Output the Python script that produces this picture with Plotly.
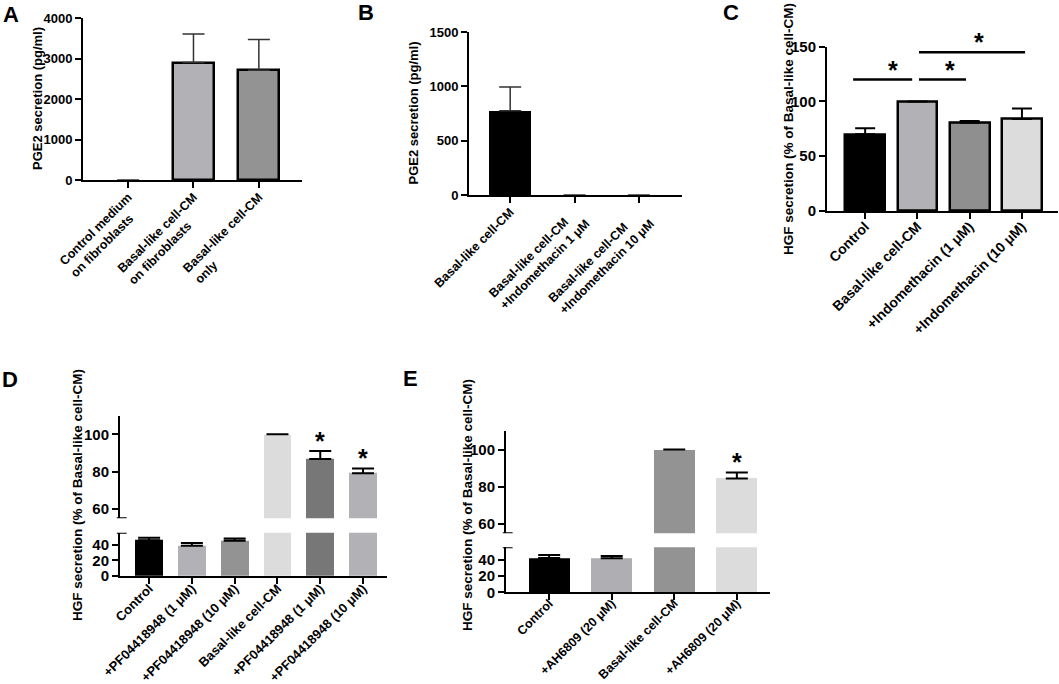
import plotly.graph_objects as go

W, H = 1059, 684
FONT = "Liberation Sans, Arial, sans-serif"
NB = "\u00a0"  # pads short lines so the two-line labels read left-aligned

# ---- data ----
a_labels = ["Control medium<br>on fibroblasts" + NB * 4,
            "Basal-like cell-CM<br>on fibroblasts" + NB * 7,
            "Basal-like cell-CM<br>only" + NB * 23]
a_values = [0, 2900, 2710]
a_errors = [0, 705, 760]
a_colors = ["#ffffff", "#b1b1b6", "#939393"]

b_labels = ["Basal-like cell-CM",
            "Basal-like cell-CM" + NB * 4 + "<br>+Indomethacin 1 μM",
            "Basal-like cell-CM" + NB * 6 + "<br>+Indomethacin 10 μM"]
b_values = [775, 0, 0]
b_errors = [220, 0, 0]
b_colors = ["#000000", "#000000", "#000000"]

c_labels = ["Control", "Basal-like cell-CM", "+Indomethacin (1 μM)", "+Indomethacin (10 μM)"]
c_values = [70, 100, 80.5, 84]
c_errors = [5.5, 0, 1.7, 9.5]
c_colors = ["#000000", "#b1b1b6", "#8f8f8f", "#dcdcdc"]
# significance brackets: (from x, to x, height, star x)
c_brackets = [(-0.23, 0.9, 120, 0.54), (1.03, 1.93, 120, 1.63), (1.03, 3.06, 145, 2.18)]

d_labels = ["Control", "+PF04418948 (1 μM)", "+PF04418948 (10 μM)", "Basal-like cell-CM",
            "+PF04418948 (1 μM)", "+PF04418948 (10 μM)"]
d_values = [45.5, 38.5, 44.8, 100, 86.8, 79.2]
d_errors = [3, 3.5, 2.9, 0, 4.3, 2.5]
d_colors = ["#000000", "#b1b1b6", "#939393", "#dcdcdc", "#777777", "#b1b1b6"]
d_stars = [False, False, False, False, True, True]

e_labels = ["Control", "+AH6809 (20 μM)", "Basal-like cell-CM", "+AH6809 (20 μM)"]
e_values = [42, 41.6, 100, 84.5]
e_errors = [3.7, 2.9, 0, 3.2]
e_colors = ["#000000", "#aeaeb3", "#939393", "#dcdcdc"]
e_stars = [False, False, False, True]


def px(x0, x1):
    return [x0 / W, x1 / W]


def py(top, bottom):
    return [1 - bottom / H, 1 - top / H]


fig = go.Figure()


def add_bars(n, labels, values, errors, colors, outline, width, cap, ethick, ecolor="black"):
    fig.add_trace(go.Bar(
        x=list(range(len(labels))), y=values, width=width,
        marker=dict(color=colors, line=dict(color="black",
                                            width=[outline if v else 0 for v in values])),
        error_y=dict(type="data", array=[e if e else None for e in errors],
                     arrayminus=[0] * len(errors), symmetric=False,
                     color=ecolor, thickness=ethick, width=cap),
        xaxis="x" + n, yaxis="y" + n, showlegend=False, hoverinfo="skip"))


add_bars("", a_labels, a_values, a_errors, a_colors, 2.5, 0.63, 11, 1.5, "#333333")
add_bars("2", b_labels, b_values, b_errors, b_colors, 0, 0.66, 11, 1.5, "#333333")
add_bars("3", c_labels, c_values, c_errors, c_colors, 2.5, 0.76, 10, 2)
add_bars("4", d_labels, d_values, d_errors, d_colors, 0, 0.65, 11, 2)
add_bars("5", d_labels, d_values, d_errors, d_colors, 0, 0.65, 11, 2)
add_bars("6", e_labels, e_values, e_errors, e_colors, 0, 0.66, 11, 2)
add_bars("7", e_labels, e_values, e_errors, e_colors, 0, 0.66, 11, 2)


def bold(size):
    return dict(family=FONT, size=size, color="black", weight="bold")


axis_style = dict(showline=True, linecolor="black", linewidth=2, ticks="outside", ticklen=6,
                  tickwidth=2, tickcolor="black", showgrid=False, zeroline=False, automargin=False)


def xaxis(dom, labels, rng, anchor, size, visible=True, standoff=-4):
    return dict(axis_style, domain=dom, range=rng, anchor=anchor, tickmode="array",
                tickvals=list(range(len(labels))), ticktext=labels, tickangle=-45,
                tickfont=bold(size), visible=visible, ticklabelstandoff=standoff)


def yaxis(dom, rng, ticks, anchor, size):
    return dict(axis_style, domain=dom, range=rng, anchor=anchor, tickmode="array",
                tickvals=ticks, tickfont=bold(size))


fig.update_layout(
    width=W, height=H, margin=dict(l=0, r=0, t=0, b=0),
    paper_bgcolor="white", plot_bgcolor="white", bargap=0,
    font=dict(family=FONT, color="black"),
    xaxis=xaxis(px(83, 302), a_labels, [-0.69, 2.66], "y", 12.5, standoff=-3),
    yaxis=yaxis(py(18, 180), [0, 4000], [0, 1000, 2000, 3000, 4000], "x", 13),
    xaxis2=xaxis(px(469, 682), b_labels, [-0.64, 2.67], "y2", 12.5, standoff=-3),
    yaxis2=yaxis(py(32, 195), [0, 1500], [0, 500, 1000, 1500], "x2", 13),
    xaxis3=xaxis(px(827, 1058), c_labels, [-0.73, 3.69], "y3", 14, standoff=-6),
    yaxis3=yaxis(py(46.7, 211), [0, 150], [0, 50, 100, 150], "x3", 15),
    xaxis4=xaxis(px(120, 387), d_labels, [-0.68, 5.56], "y4", 13, standoff=-8),
    yaxis4=yaxis(py(532.7, 576), [0, 55], [0, 20, 40], "x4", 15),
    xaxis5=xaxis(px(120, 387), d_labels, [-0.68, 5.56], "y5", 13, visible=False),
    yaxis5=yaxis(py(415.7, 518.3), [55, 110], [60, 80, 100], "x5", 15),
    xaxis6=xaxis(px(506, 770), e_labels, [-0.69, 3.53], "y6", 12.5, standoff=-9),
    yaxis6=yaxis(py(547.3, 592.3), [0, 55], [0, 20, 40], "x6", 15),
    xaxis7=xaxis(px(506, 770), e_labels, [-0.69, 3.53], "y7", 12.5, visible=False),
    yaxis7=yaxis(py(431, 533.3), [55, 110], [60, 80, 100], "x7", 15),
)

# axis break caps
for xa, ya in [("x5", "y5"), ("x4", "y4"), ("x7", "y7"), ("x6", "y6")]:
    fig.add_shape(type="line", xref=xa + " domain", yref=ya, x0=-0.012, x1=0.025, y0=55, y1=55,
                  line=dict(color="black", width=2))

# significance brackets in C
for x0, x1, h, xs in c_brackets:
    fig.add_shape(type="line", xref="x3", yref="y3", x0=x0, x1=x1, y0=h, y1=h,
                  line=dict(color="black", width=2.5))
    fig.add_annotation(x=xs, y=h, xref="x3", yref="y3", text="*", showarrow=False,
                       yanchor="bottom", yshift=-6, font=bold(25))


def add_stars(xa, ya, values, errors, stars):
    for i, (v, e, s) in enumerate(zip(values, errors, stars)):
        if s:
            fig.add_annotation(x=i, y=v + e, xref=xa, yref=ya, text="*", showarrow=False,
                               yanchor="bottom", yshift=-6, font=bold(25))


add_stars("x5", "y5", d_values, d_errors, d_stars)
add_stars("x7", "y7", e_values, e_errors, e_stars)

# y axis titles
ytitles = [
    ("PGE2 secretion (pg/ml)", 37, 99, 13),
    ("PGE2 secretion (pg/ml)", 413, 113.5, 13),
    ("HGF secretion (% of Basal-like cell-CM)", 788, 129, 13.5),
    ("HGF secretion (% of Basal-like cell-CM)", 77, 495, 13.5),
    ("HGF secretion (% of Basal-like cell-CM)", 467, 505, 13.5),
]
for t, x, y, s in ytitles:
    fig.add_annotation(x=x / W, y=1 - y / H, xref="paper", yref="paper", text=t, textangle=-90,
                       showarrow=False, xanchor="center", yanchor="middle", font=bold(s))

# panel letters
for t, x, y in [("A", 11, 14), ("B", 366, 13), ("C", 731, 12), ("D", 10, 379), ("E", 410, 378)]:
    fig.add_annotation(x=x / W, y=1 - y / H, xref="paper", yref="paper", text=t, showarrow=False,
                       xanchor="center", yanchor="middle", font=bold(22))

fig.write_html("out.html", config={"displayModeBar": False},
               post_script="document.body.style.margin='0';")
